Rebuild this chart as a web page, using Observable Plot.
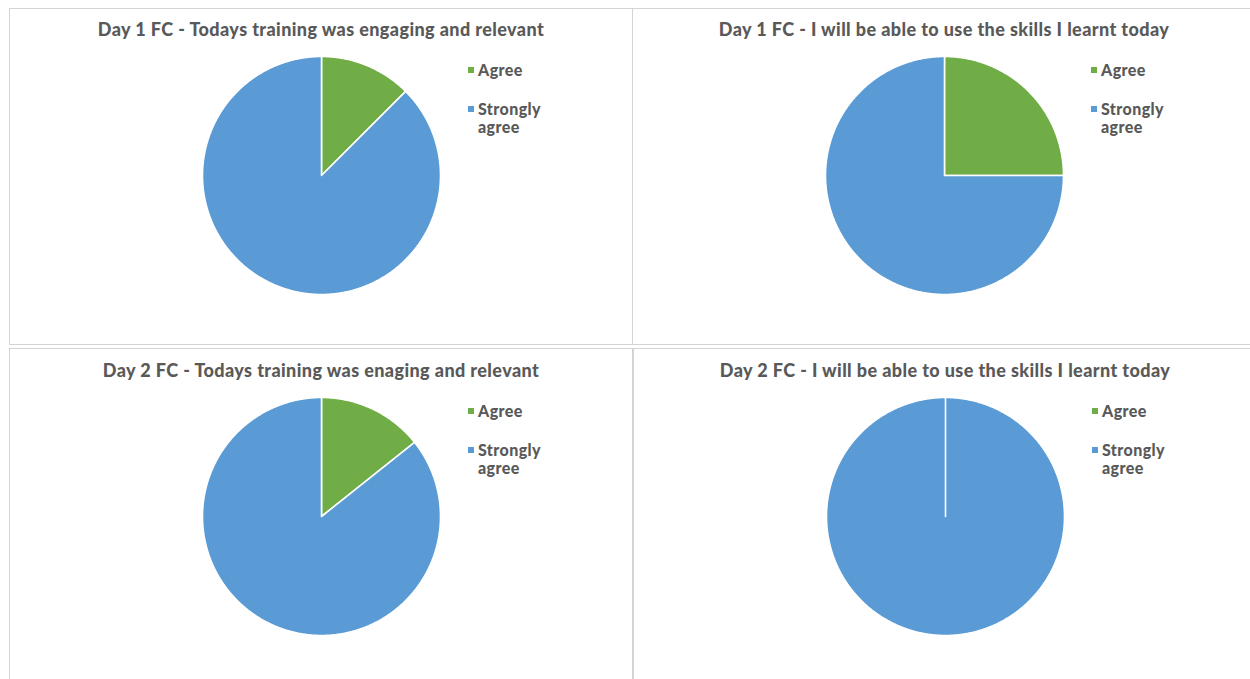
<!DOCTYPE html>
<html>
<head>
<meta charset="utf-8">
<script src="https://cdn.jsdelivr.net/npm/d3@7"></script>
<script src="https://cdn.jsdelivr.net/npm/@observablehq/plot@0.6"></script>
<style>
  html, body { margin: 0; padding: 0; background: #fff; overflow: hidden; }
  body { width: 1250px; height: 679px; position: relative; font-family: Lato, "Open Sans", sans-serif; }
  .panel { position: absolute; border: 1px solid #d4d4d4; box-sizing: border-box; background: #fff; }
  .title { position: absolute; transform: translateX(-50%); white-space: nowrap; font-weight: 900; font-size: 18px; letter-spacing: 0.4px; color: #595959; }
  .pie { position: absolute; }
  .legend { position: absolute; font-weight: 900; font-size: 16px; letter-spacing: 0.4px; color: #595959; line-height: 18px; }
  .item { position: relative; padding-left: 10px; margin-bottom: 21px; }
  .sw { position: absolute; left: 0; top: 6px; width: 6px; height: 6px; }
</style>
</head>
<body>
<script>
// ---- data ----
const titles = [
  "Day 1 FC - Todays training was engaging and relevant",
  "Day 1 FC - I will be able to use the skills I learnt today",
  "Day 2 FC - Todays training was enaging and relevant",
  "Day 2 FC - I will be able to use the skills I learnt today"
];
const categories = ["Agree", "Strongly agree"];
const legendLines = [["Agree"], ["Strongly", "agree"]];
const colors = ["#70AD47", "#5B9BD5"];
const day1Engaging = [1, 7];
const day1Skills = [2, 6];
const day2Engaging = [1, 6];
const day2Skills = [0, 7];
const seriesList = [day1Engaging, day1Skills, day2Engaging, day2Skills];

// ---- layout ----
const panels = [
  {left: 9, top: 8, width: 624, height: 337, cx: 321, cy: 175, ty: 18},
  {left: 632, top: 8, width: 630, height: 337, cx: 944, cy: 175, ty: 18},
  {left: 9, top: 348, width: 624, height: 345, cx: 321, cy: 516, ty: 359},
  {left: 633, top: 348, width: 630, height: 345, cx: 945, cy: 516, ty: 359}
];
panels.forEach(p => {
  const d = document.createElement("div");
  d.className = "panel";
  Object.assign(d.style, {left: p.left + "px", top: p.top + "px", width: p.width + "px", height: p.height + "px"});
  document.body.appendChild(d);
});

const SIZE = 250, R = 119;

function slicePolygons(values) {
  const arcs = d3.pie().sort(null).value(d => d)(values);
  const rows = [];
  arcs.forEach((a, i) => {
    const pts = [{cat: categories[i], x: 0, y: 0}];
    const steps = Math.max(2, Math.ceil((a.endAngle - a.startAngle) / (Math.PI / 360)));
    for (let k = 0; k <= steps; k++) {
      const t = a.startAngle + (a.endAngle - a.startAngle) * k / steps;
      pts.push({cat: categories[i], x: Math.sin(t), y: Math.cos(t)});
    }
    rows.push({cat: categories[i], i, pts});
  });
  return rows;
}

seriesList.forEach((values, idx) => {
  const p = panels[idx];
  const slices = slicePolygons(values);
  const marks = slices.map(s => Plot.line(s.pts, {
    x: "x", y: "y", curve: "linear-closed",
    fill: colors[s.i], stroke: "#ffffff", strokeWidth: 1.6, strokeLinejoin: "round"
  }));
  const chart = Plot.plot({
    width: SIZE, height: SIZE, margin: 0,
    x: {domain: [-1, 1], range: [SIZE / 2 - R, SIZE / 2 + R], axis: null},
    y: {domain: [-1, 1], range: [SIZE / 2 + R, SIZE / 2 - R], axis: null},
    marks
  });
  chart.classList.add("pie");
  chart.style.left = (p.cx - SIZE / 2) + "px";
  chart.style.top = (p.cy - SIZE / 2) + "px";
  document.body.appendChild(chart);

  const t = document.createElement("div");
  t.className = "title";
  t.textContent = titles[idx];
  t.style.left = p.cx + "px";
  t.style.top = p.ty + "px";
  document.body.appendChild(t);

  const lg = document.createElement("div");
  lg.className = "legend";
  lg.style.left = (p.cx + 147) + "px";
  lg.style.top = (p.cy - 114) + "px";
  categories.forEach((c, i) => {
    const it = document.createElement("div");
    it.className = "item";
    const sw = document.createElement("span");
    sw.className = "sw";
    sw.style.background = colors[i];
    it.appendChild(sw);
    legendLines[i].forEach((ln, j) => {
      if (j > 0) it.appendChild(document.createElement("br"));
      it.appendChild(document.createTextNode(ln));
    });
    lg.appendChild(it);
  });
  document.body.appendChild(lg);
});
</script>
</body>
</html>
